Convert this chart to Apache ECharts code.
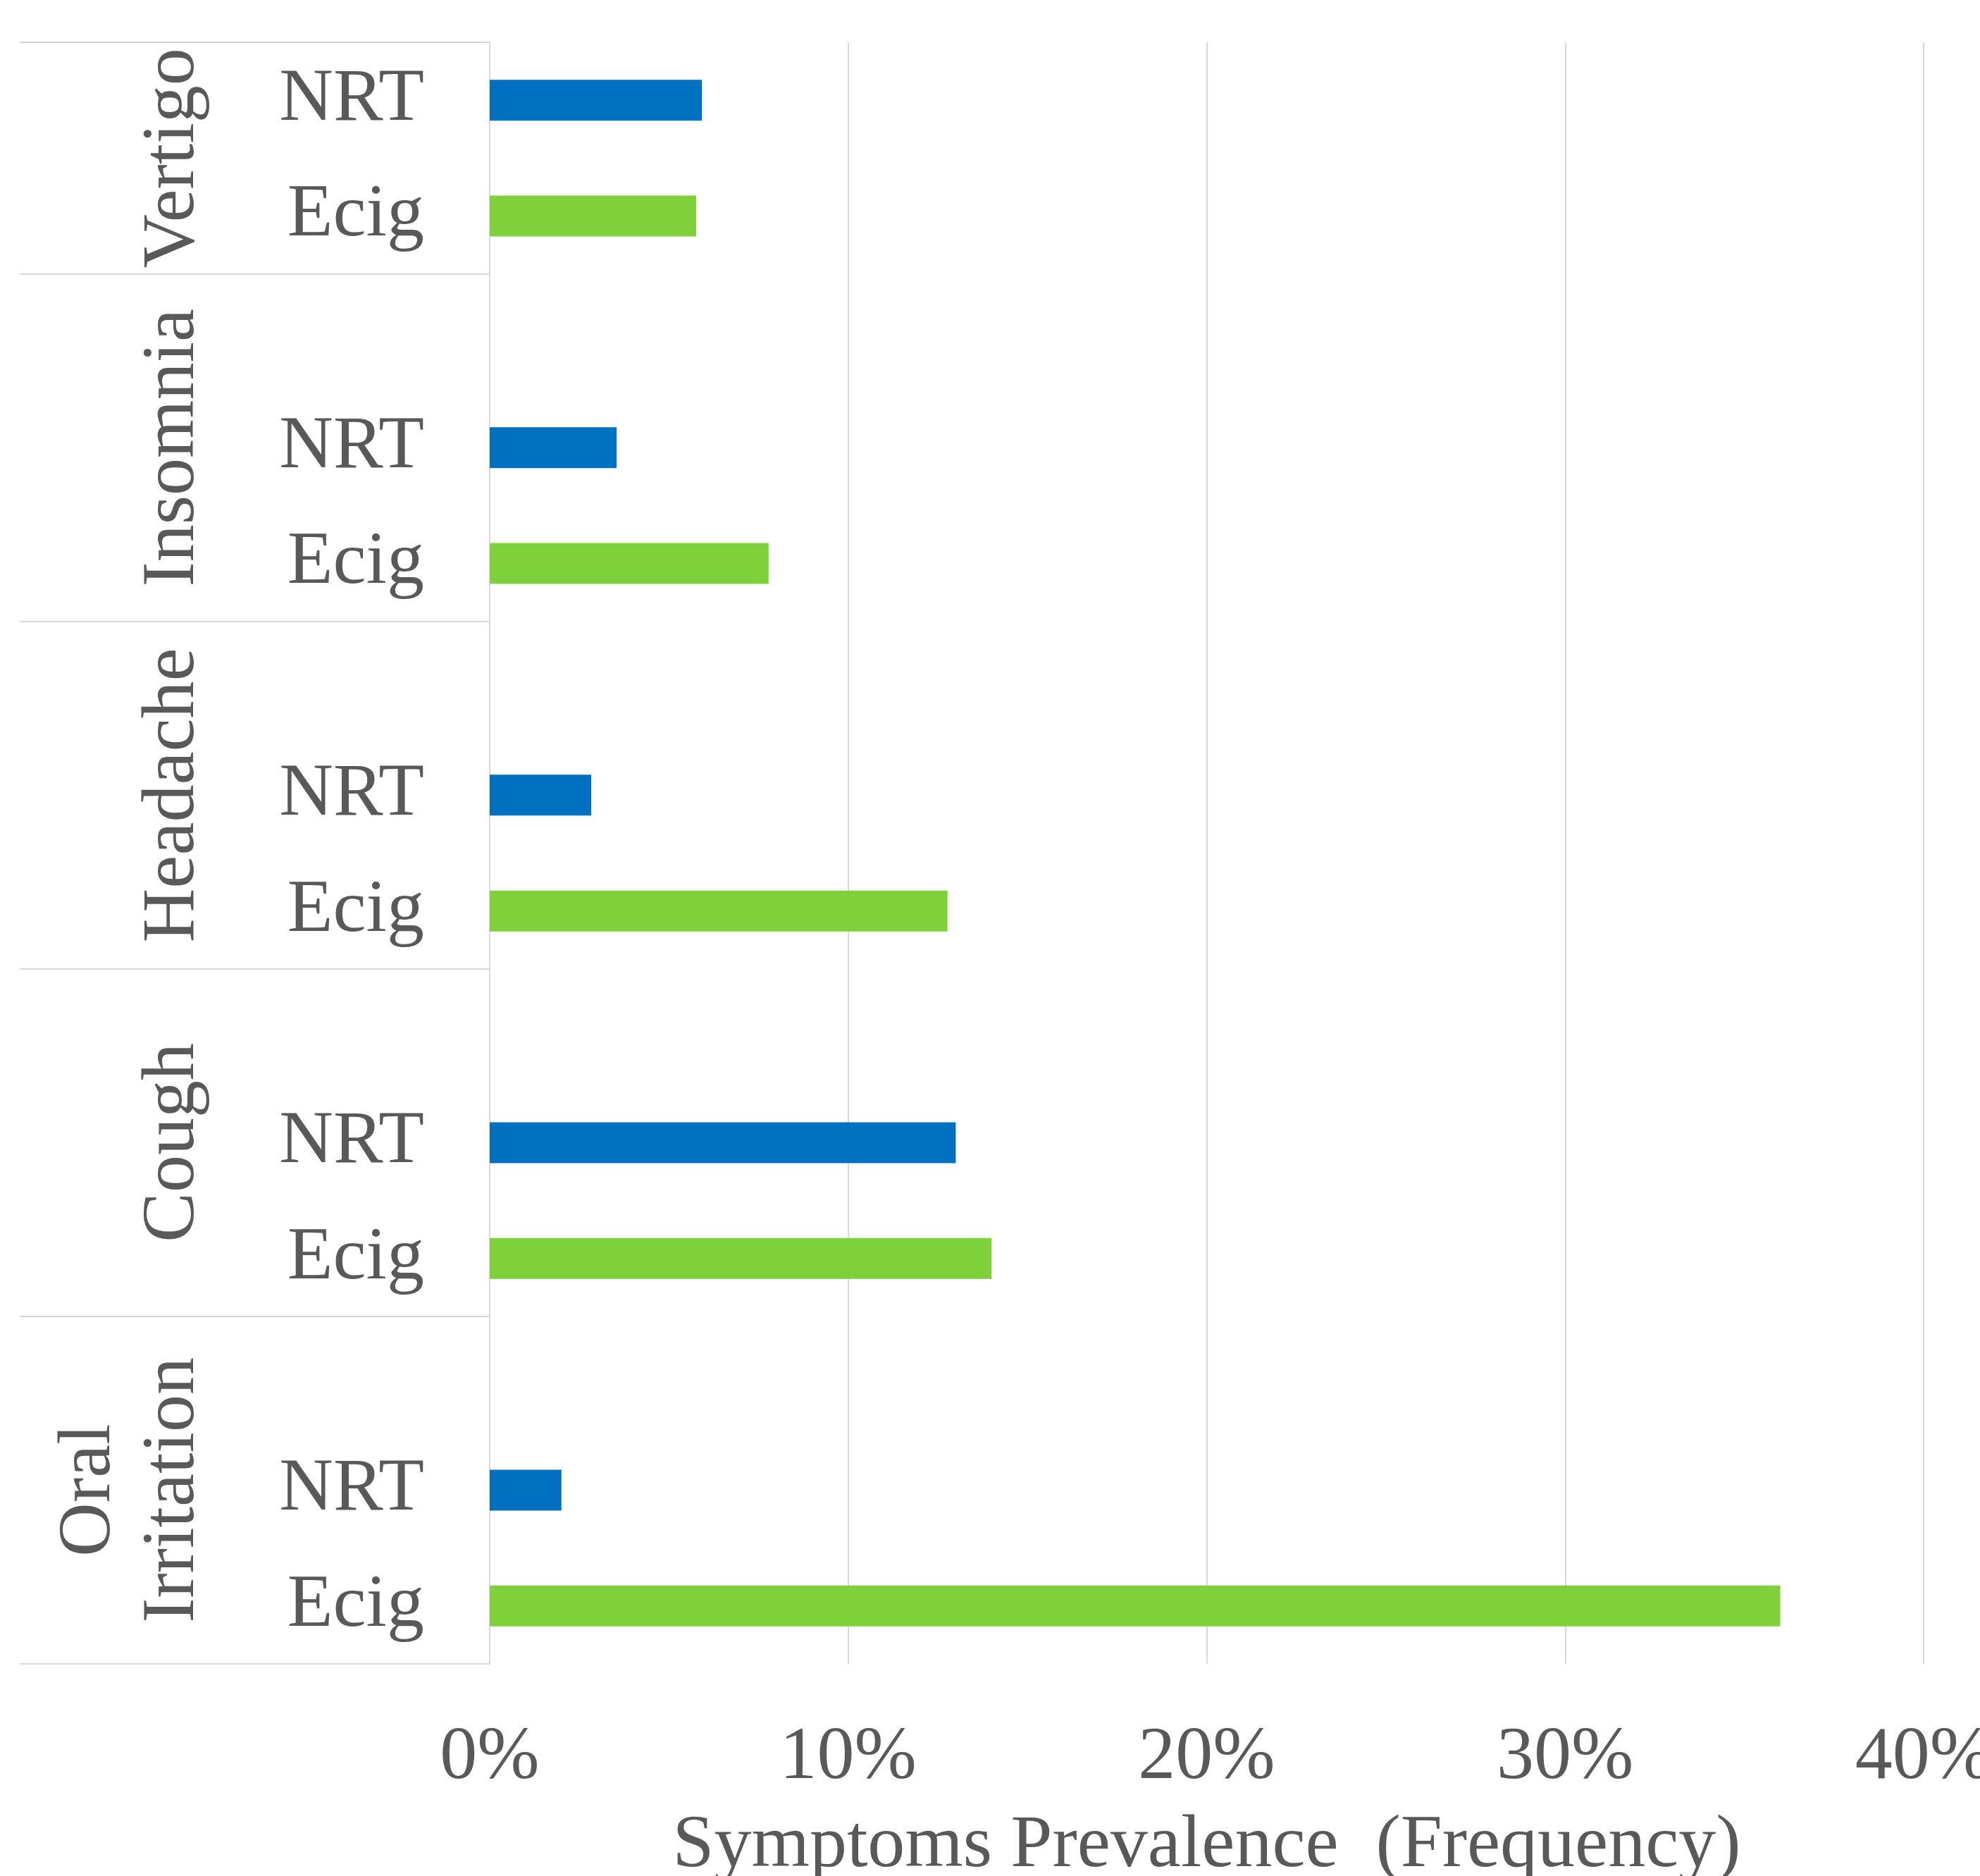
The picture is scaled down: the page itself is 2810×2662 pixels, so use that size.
<!DOCTYPE html>
<html>
<head>
<meta charset="utf-8">
<script src="https://cdn.jsdelivr.net/npm/echarts@6/dist/echarts.min.js"></script>
<style>
  html, body { margin: 0; padding: 0; background: #ffffff; overflow: hidden; }
  #chart { width: 2810px; height: 2662px; }
</style>
</head>
<body>
<div id="chart"></div>
<script>
// Symptom groups, listed bottom to top
const groups = ['Oral\nIrritation', 'Cough', 'Headache', 'Insomnia', 'Vertigo'];
// Prevalence of each symptom (fraction of users), same order as groups
const nrtValues = [0.020, 0.130, 0.0283, 0.0354, 0.0592];
const ecigValues = [0.360, 0.140, 0.1277, 0.0778, 0.0576];
const xTicks = [0, 0.1, 0.2, 0.3, 0.4];
const xTitle = 'Symptoms Prevalence  (Frequency)';

// Each group takes an Ecig row, an NRT row and a blank spacer row (none after the last group)
const categories = [];
const nrtData = [];
const ecigData = [];
const groupEdges = [];
const groupCenters = [];
groups.forEach((g, i) => {
  const start = categories.length;
  groupEdges.push(start);
  categories.push('Ecig'); ecigData.push(ecigValues[i]); nrtData.push(null);
  categories.push('NRT'); nrtData.push(nrtValues[i]); ecigData.push(null);
  if (i < groups.length - 1) { categories.push(''); nrtData.push(null); ecigData.push(null); }
  groupCenters.push((start + categories.length) / 2);
});
groupEdges.push(categories.length);

const FONT = "'Liberation Serif', 'Times New Roman', serif";
const TEXT = '#595959';
const LINE = '#d9d9d9';
const FS = 106;

const chart = echarts.init(document.getElementById('chart'), null, { renderer: 'canvas' });
chart.setOption({
  animation: false,
  backgroundColor: '#ffffff',
  grid: {
    left: 695, top: 60, width: 2035, height: 2301,
    containLabel: false,
    outerBoundsMode: 'none'
  },
  xAxis: {
    type: 'value',
    min: xTicks[0],
    max: xTicks[xTicks.length - 1],
    interval: xTicks[1] - xTicks[0],
    axisLine: { show: false },
    axisTick: { show: false },
    splitLine: { show: true, lineStyle: { color: LINE, width: 2 } },
    axisLabel: {
      margin: 74,
      fontFamily: FONT, fontSize: FS, lineHeight: 120, color: TEXT,
      formatter: v => Math.round(v * 100) + '%'
    },
    name: xTitle,
    nameLocation: 'middle',
    nameGap: 199,
    nameTextStyle: { fontFamily: FONT, fontSize: FS, lineHeight: 120, color: TEXT }
  },
  yAxis: [
    {
      type: 'category',
      data: categories,
      position: 'left',
      axisLine: { show: true, lineStyle: { color: LINE, width: 2 } },
      axisTick: { show: false },
      splitLine: { show: false },
      axisLabel: {
        interval: 0,
        margin: 93,
        padding: [26, 0, 0, 0],
        fontFamily: FONT, fontSize: FS, color: TEXT
      }
    },
    {
      type: 'value',
      position: 'left',
      min: 0,
      max: categories.length,
      interval: 1,
      axisLine: { show: false },
      splitLine: { show: false },
      axisTick: {
        show: true,
        inside: false,
        length: 667,
        customValues: groupEdges,
        lineStyle: { color: LINE, width: 2 }
      },
      axisLabel: {
        show: true,
        customValues: groupCenters,
        rotate: 90,
        margin: 389,
        fontFamily: FONT, fontSize: FS, lineHeight: 119, color: TEXT,
        formatter: v => groups[groupCenters.indexOf(v)] || ''
      }
    }
  ],
  series: [
    {
      name: 'NRT',
      type: 'bar',
      yAxisIndex: 0,
      data: nrtData,
      barWidth: 58,
      barGap: '-100%',
      itemStyle: { color: '#0070C0' }
    },
    {
      name: 'Ecig',
      type: 'bar',
      yAxisIndex: 0,
      data: ecigData,
      barWidth: 58,
      barGap: '-100%',
      itemStyle: { color: '#7FD13B' }
    }
  ]
});
</script>
</body>
</html>
